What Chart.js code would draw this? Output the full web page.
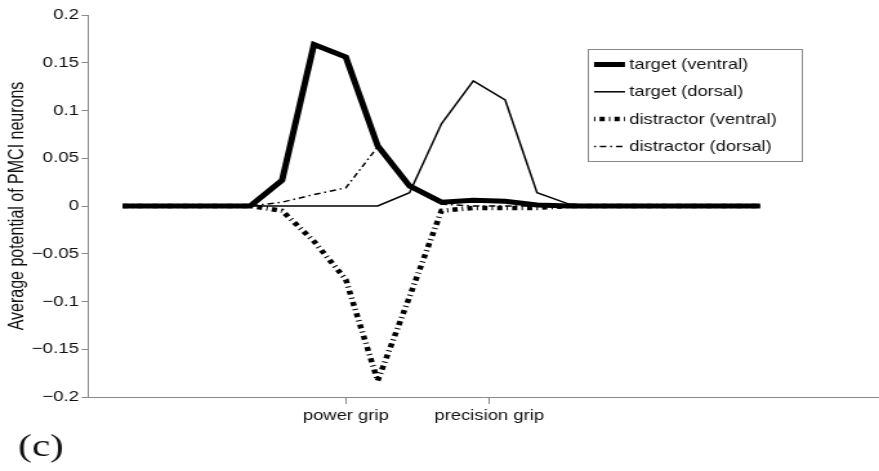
<!DOCTYPE html>
<html>
<head>
<meta charset="utf-8">
<script src="https://cdn.jsdelivr.net/npm/chart.js@4.4.1/dist/chart.umd.min.js"></script>
<style>
  html, body { margin: 0; padding: 0; background: #ffffff; overflow: hidden; }
  #wrap { position: absolute; left: 0; top: 0; width: 879px; height: 471px; overflow: hidden; }
  #c { position: absolute; left: 0; top: 0; transform-origin: 0 0; transform: scaleX(1.28886); }
</style>
</head>
<body>
<div id="wrap"><canvas id="c" width="682" height="471"></canvas></div>
<script>
// ---- data ----
const xIndex = [0, 1, 2, 3, 4, 5, 6, 7, 8, 9, 10, 11, 12, 13, 14, 15, 16, 17, 18, 19, 20];
const targetVentral     = [0, 0, 0, 0, 0, 0.027, 0.169, 0.156, 0.063, 0.021, 0.004, 0.006, 0.005, 0.001, 0, 0, 0, 0, 0, 0, 0];
const targetDorsal      = [0, 0, 0, 0, 0, 0, 0, 0, 0, 0.014, 0.086, 0.131, 0.111, 0.014, 0.002, 0, 0, 0, 0, 0, 0];
const distractorVentral = [0, 0, 0, 0, 0, -0.005, -0.037, -0.077, -0.183, -0.095, -0.005, -0.002, -0.002, -0.002, 0, 0, 0, 0, 0, 0, 0];
const distractorDorsal  = [0, 0, 0, 0, 0, 0.004, 0.012, 0.019, 0.062, 0.02, 0.002, 0, 0, 0, 0, 0, 0, 0, 0, 0, 0];
const seriesLabels = ['target (ventral)', 'target (dorsal)', 'distractor (ventral)', 'distractor (dorsal)'];
const xTickValues = [7, 11.5];
const xTickLabels = ['power grip', 'precision grip'];
const yTickValues = [0.2, 0.15, 0.1, 0.05, 0, -0.05, -0.1, -0.15, -0.2];
const yTickLabels = ['0.2', '0.15', '0.1', '0.05', '0', '\u22120.05', '\u22120.1', '\u22120.15', '\u22120.2'];
const yTitle = 'Average potential of PMCI neurons';
const panelLabel = '(c)';

const toPts = arr => arr.map((v, i) => ({ x: xIndex[i], y: v }));
const AXIS_GRAY = '#8a8a8a';
const SANS = '"Liberation Sans", Arial, Helvetica, sans-serif';

const legendAndPanel = {
  id: 'legendAndPanel',
  afterDraw(chart) {
    const ctx = chart.ctx;
    ctx.save();
    // legend box
    const bx = 455.7, by = 48.5, bw = 165.6, bh = 111.5;
    ctx.strokeStyle = AXIS_GRAY;
    ctx.lineWidth = 1;
    ctx.setLineDash([]);
    ctx.strokeRect(Math.round(bx) + 0.5, Math.round(by) + 0.5, Math.round(bw), Math.round(bh));
    chart.data.datasets.forEach((ds, i) => {
      const y = 64.5 + i * 27.3;
      ctx.beginPath();
      ctx.strokeStyle = ds.borderColor;
      ctx.lineWidth = ds.borderWidth;
      ctx.lineCap = 'butt';
      ctx.setLineDash(ds.borderDash || []);
      ctx.lineDashOffset = ds.legendDashOffset || 0;
      ctx.moveTo(460.9, y);
      ctx.lineTo(484.9, y);
      ctx.stroke();
      ctx.setLineDash([]);
      ctx.fillStyle = '#111';
      ctx.font = '14.2px ' + SANS;
      ctx.textBaseline = 'middle';
      ctx.textAlign = 'left';
      ctx.fillText(ds.label, 488.3, y + 0.5);
    });
    // panel label
    ctx.fillStyle = '#111';
    ctx.font = '32px "Liberation Serif", "Times New Roman", serif';
    ctx.textBaseline = 'alphabetic';
    ctx.textAlign = 'left';
    ctx.fillText(panelLabel, 14, 456);
    ctx.restore();
  }
};

new Chart(document.getElementById('c'), {
  type: 'line',
  data: {
    datasets: [
      { label: seriesLabels[0], data: toPts(targetVentral), borderColor: '#000', borderWidth: 5, borderDash: [], order: 4 },
      { label: seriesLabels[1], data: toPts(targetDorsal), borderColor: '#000', borderWidth: 1.5, borderDash: [], order: 3 },
      { label: seriesLabels[2], data: toPts(distractorVentral), borderColor: '#000', borderWidth: 4.5, borderDash: [4, 3.3, 1, 3.3], legendDashOffset: 7.3, order: 2 },
      { label: seriesLabels[3], data: toPts(distractorDorsal), borderColor: '#000', borderWidth: 1.5, borderDash: [5, 3, 1.5, 3], legendDashOffset: 8, order: 1 }
    ]
  },
  options: {
    responsive: false,
    animation: false,
    devicePixelRatio: 1,
    layout: { padding: { top: 15, right: 0, bottom: 0, left: 0 } },
    elements: {
      point: { radius: 0, hoverRadius: 0 },
      line: { tension: 0, fill: false, borderCapStyle: 'butt', borderJoinStyle: 'miter' }
    },
    plugins: {
      legend: { display: false },
      tooltip: { enabled: false },
      title: { display: false }
    },
    scales: {
      x: {
        type: 'linear',
        position: 'bottom',
        min: -1.088,
        max: 23.73,
        afterFit(scale) { scale.height = 74; },
        afterBuildTicks(scale) { scale.ticks = xTickValues.map(v => ({ value: v })); },
        ticks: {
          autoSkip: false,
          maxRotation: 0,
          padding: 3,
          color: '#111',
          font: { family: SANS, size: 14.3 },
          callback: (v, i) => xTickLabels[i]
        },
        grid: { drawOnChartArea: false, drawTicks: true, tickLength: 7, color: AXIS_GRAY, tickColor: AXIS_GRAY },
        border: { display: true, color: AXIS_GRAY, width: 1 }
      },
      y: {
        type: 'linear',
        min: -0.2,
        max: 0.2,
        afterFit(scale) { scale.width = 68.3; },
        afterBuildTicks(scale) { scale.ticks = yTickValues.map(v => ({ value: v })); },
        ticks: {
          autoSkip: false,
          padding: 2,
          color: '#111',
          font: { family: SANS, size: 14.5 },
          callback: (v, i) => yTickLabels[i]
        },
        grid: { drawOnChartArea: false, drawTicks: true, tickLength: 5, color: AXIS_GRAY, tickColor: AXIS_GRAY },
        border: { display: true, color: AXIS_GRAY, width: 1 },
        title: {
          display: true,
          text: yTitle,
          color: '#111',
          font: { family: SANS, size: 16 },
          padding: { top: 4, bottom: 0 }
        }
      }
    }
  },
  plugins: [legendAndPanel]
});
</script>
</body>
</html>
